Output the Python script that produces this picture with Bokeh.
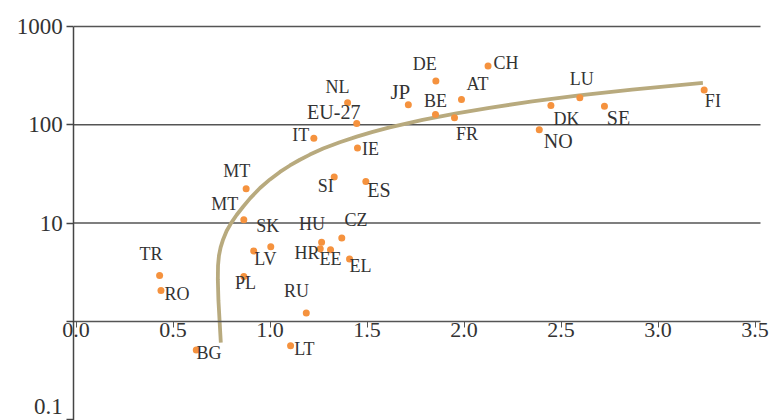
from bokeh.plotting import figure
from bokeh.models import Range1d, FixedTicker, PrintfTickFormatter, ColumnDataSource, LogAxis
from bokeh.core.properties import value
from bokeh.embed import file_html
from bokeh.resources import INLINE

# Country codes with their x value and (log-scaled) y value
countries = ["NL", "EU-27", "IT", "IE", "JP", "DE", "BE", "AT", "FR", "CH",
             "DK", "LU", "SE", "NO", "FI", "MT", "MT", "SI", "ES", "SK",
             "LV", "HU", "CZ", "HR", "EE", "EL", "TR", "RO", "PL", "RU",
             "BG", "LT"]
x_values = [1.40, 1.447, 1.226, 1.451, 1.713, 1.855, 1.853, 1.987, 1.951, 2.124,
            2.448, 2.597, 2.724, 2.388, 3.238, 0.877, 0.865, 1.331, 1.494, 1.004,
            0.916, 1.266, 1.370, 1.259, 1.312, 1.410, 0.431, 0.438, 0.865, 1.187,
            0.620, 1.106]
y_values = [167, 103, 73, 58, 160, 278, 127, 181, 118, 397,
            157, 188, 154, 89, 226, 22.3, 10.8, 29.4, 26.4, 5.72,
            5.18, 6.38, 7.05, 5.46, 5.34, 4.30, 2.92, 2.05, 2.86, 1.21,
            0.511, 0.564]

# Trend curve, read as a sequence of points
trend_x = [0.7465, 0.7342, 0.7311, 0.7321, 0.7368, 0.7455, 0.7584, 0.7763, 0.7995,
           0.8278, 0.8612, 0.8972, 0.9486, 1.0000, 1.0514, 1.1028, 1.1542, 1.2057,
           1.2740, 1.3599, 1.4473, 1.5296, 1.6170, 1.7866, 1.9614, 2.1311, 2.3522,
           2.5938, 2.8663, 3.2314]
trend_y = [0.605, 1.627, 2.665, 3.686, 4.645, 5.655, 6.808, 8.288, 9.977,
           12.06, 14.62, 17.80, 22.70, 27.78, 33.12, 38.50, 44.05, 49.69,
           57.20, 66.37, 75.73, 84.64, 93.94, 112.3, 130.8, 148.9, 172.8,
           198.6, 228.1, 267.1]

x_ticks = [0.0, 0.5, 1.0, 1.5, 2.0, 2.5, 3.0, 3.5]
y_ticks = [1, 10, 100, 1000]
y_tick_text = {1: "", 10: "10", 100: "100", 1000: "1000"}
y_low_ticks = [0.1]
y_low_text = {0.1: "0.1"}
grid_levels = [10, 100, 1000]

# Label placement (screen pixel offsets from each point) and font sizes
label_dx = [-10, -23, -13, 13, -8, -11, 0, 16, 12.5, 18,
            15.5, 2, 14, 19, 8.7, -9.3, -19, -8.5, 13, -3,
            11.6, -9.7, 14.3, -13.3, 0, 11, -8.6, 16, 1.6, -9.7,
            12.7, 13.8]
label_dy = [-16, -11, -3, 1.4, -13, -17.6, -13.6, -15, 16, -3,
            13, -18.6, 12, 11, 11.4, -18, -16, 8.7, 8.7, -20.7,
            7.5, -18, -18, 3.7, 9.7, 7, -22, 3, 7, -22,
            3, 3.2]
size_of = {"ES": "20px", "SE": "20px", "NO": "20px", "JP": "21px", "EU-27": "20px"}
label_size = [size_of.get(c, "18px") for c in countries]

src = ColumnDataSource(dict(x=x_values, y=y_values, name=countries,
                            dx=label_dx, dy=label_dy, fs=label_size))

# screen scale: pixels per x unit and per decade of y
px_per_x = 194.0
x_origin_px = 75.5
px_per_decade = 98.25
W, H = 769, 420

x_start = -x_origin_px / px_per_x
x_end = x_start + W / px_per_x
y_end = 10 ** (3 + 26 / px_per_decade)
y_start = 10 ** (-1 - 1 / px_per_decade)

axis_x = (73.3 - x_origin_px) / px_per_x     # where the vertical axis sits
right_x = (760 - x_origin_px) / px_per_x     # right end of axis and grid lines

p = figure(width=W, height=H, y_axis_type="log",
           x_range=Range1d(x_start, x_end), y_range=Range1d(y_start, y_end),
           output_backend="svg", toolbar_location=None,
           min_border_left=0, min_border_right=0, min_border_top=0, min_border_bottom=0)
p.outline_line_color = None
p.background_fill_color = "white"
p.xgrid.visible = False
p.ygrid.visible = False

serif = "Liberation Serif"
ink = "#333333"

# horizontal axis crossing at y = 1
xa = p.xaxis[0]
xa.fixed_location = 1
xa.bounds = (axis_x, right_x)
xa.ticker = FixedTicker(ticks=x_ticks)
xa.formatter = PrintfTickFormatter(format="%.1f")
xa.axis_line_color = "#555555"
xa.axis_line_width = 1.5
xa.major_tick_line_color = "#555555"
xa.major_tick_out = 6
xa.major_tick_in = 0
xa.minor_tick_line_color = None
xa.major_label_standoff = -4
xa.major_label_text_font = serif
xa.major_label_text_font_size = "22px"
xa.major_label_text_color = ink

# vertical log axis
ya = p.yaxis[0]
ya.fixed_location = axis_x
ya.bounds = (y_start, 1000)
ya.ticker = FixedTicker(ticks=y_ticks)
ya.major_label_overrides = y_tick_text
ya.axis_line_color = "#444444"
ya.axis_line_width = 1.5
ya.major_tick_line_color = "#444444"
ya.major_tick_line_width = 1.5
ya.major_tick_out = 7
ya.major_tick_in = 0
ya.minor_tick_line_color = None
ya.major_label_standoff = 4
ya.major_label_text_font = serif
ya.major_label_text_font_size = "23px"
ya.major_label_text_color = ink

# lowest tick label sits above its tick
ya_low = LogAxis(fixed_location=axis_x, ticker=FixedTicker(ticks=y_low_ticks),
                 major_label_overrides=y_low_text,
                 axis_line_color=None, major_tick_line_color="#444444",
                 major_tick_line_width=1.5, major_tick_out=7, major_tick_in=0,
                 minor_tick_line_color=None, major_label_standoff=4,
                 major_label_text_font=serif, major_label_text_font_size="23px",
                 major_label_text_color=ink, major_label_text_baseline="bottom")
p.add_layout(ya_low, "left")

# horizontal grid lines at the decades
p.segment(x0=[axis_x] * len(grid_levels), y0=grid_levels,
          x1=[right_x] * len(grid_levels), y1=grid_levels,
          line_color="#555555", line_width=1.6)

p.line(trend_x, trend_y, line_color="#b8aa7e", line_width=3.8, line_join="round")
p.scatter(x="x", y="y", source=src, size=7, fill_color="#f5923e", line_color=None)
p.text(x="x", y="y", text="name", source=src, x_offset="dx", y_offset="dy",
       text_font=value(serif), text_font_size="fs", text_color=ink,
       text_align="center", text_baseline="middle")

open("out.html", "w").write(file_html(p, INLINE))
